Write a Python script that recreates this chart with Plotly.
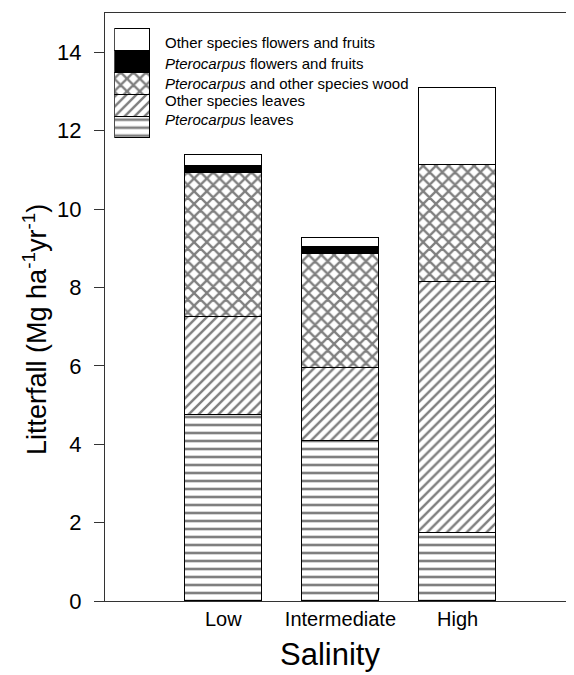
import plotly.graph_objects as go

categories = ["Low", "Intermediate", "High"]
series_names = [
    "Pterocarpus leaves",
    "Other species leaves",
    "Pterocarpus and other species wood",
    "Pterocarpus flowers and fruits",
    "Other species flowers and fruits",
]
legend_labels = [
    "<i>Pterocarpus</i> leaves",
    "Other species leaves",
    "<i>Pterocarpus</i> and other species wood",
    "<i>Pterocarpus</i> flowers and fruits",
    "Other species flowers and fruits",
]
ptero_leaves = [4.75, 4.08, 1.74]
other_leaves = [2.50, 1.86, 6.39]
wood = [3.68, 2.90, 2.99]
ptero_flowers = [0.17, 0.20, 0.0]
other_flowers = [0.28, 0.23, 1.97]
series_values = [ptero_leaves, other_leaves, wood, ptero_flowers, other_flowers]
y_ticks = [0, 2, 4, 6, 8, 10, 12, 14]

patterns = [
    dict(shape="-", size=8, solidity=0.33, fgcolor="black", bgcolor="white"),
    dict(shape="/", size=7, solidity=0.35, fgcolor="black", bgcolor="white"),
    dict(shape="x", size=9, solidity=0.45, fgcolor="black", bgcolor="white"),
    None,
    None,
]
fills = ["white", "white", "white", "black", "white"]

xpos = list(range(len(categories)))
fig = go.Figure()
for name, vals, pat, fc in zip(series_names, series_values, patterns, fills):
    marker = dict(color=fc, line=dict(color="black", width=1.2))
    if pat:
        marker["pattern"] = pat
    fig.add_trace(go.Bar(x=xpos, y=vals, name=name, width=0.66, marker=marker,
                         showlegend=False, xaxis="x", yaxis="y"))

# legend swatches as a small stacked bar in an inset axis
for name, pat, fc in zip(series_names, patterns, fills):
    marker = dict(color=fc, line=dict(color="black", width=1.2))
    if pat:
        marker["pattern"] = pat
    fig.add_trace(go.Bar(x=[0], y=[1], name=name, width=1, marker=marker,
                         showlegend=False, xaxis="x2", yaxis="y2", hoverinfo="skip",
                         cliponaxis=False))

leg_y = [0.819, 0.852, 0.8806, 0.9146, 0.9495]
for lbl, yy in zip(legend_labels, leg_y):
    fig.add_annotation(text=lbl, xref="paper", yref="paper", x=0.125, y=yy,
                       xanchor="left", yanchor="middle", showarrow=False,
                       font=dict(size=15, color="black", family="Liberation Sans"))

fig.add_annotation(text="Litterfall (Mg ha<sup>-1</sup>yr<sup>-1</sup>)",
                   xref="paper", yref="paper", x=-0.1505, y=0.461, textangle=-90,
                   xanchor="center", yanchor="middle", showarrow=False,
                   font=dict(size=27, color="black", family="Liberation Sans"))
fig.add_annotation(text="Salinity", xref="paper", yref="paper", x=0.484, y=-0.0918,
                   xanchor="center", yanchor="middle", showarrow=False,
                   font=dict(size=31, color="black", family="Liberation Sans"))

fig.update_layout(
    width=566, height=667,
    margin=dict(l=97, r=4, t=5, b=74),
    barmode="stack",
    bargap=0,
    plot_bgcolor="white", paper_bgcolor="white",
    font=dict(family="Liberation Sans", color="black"),
    xaxis=dict(
        range=[-1.01, 2.96], tickmode="array", tickvals=xpos, ticktext=categories,
        showline=True, linecolor="#333", linewidth=1, mirror=True,
        ticks="", showgrid=False, zeroline=False,
        tickfont=dict(size=20),
    ),
    yaxis=dict(
        range=[0, 15], tickmode="array", tickvals=y_ticks,
        showline=True, linecolor="#333", linewidth=1,
        ticks="outside", ticklen=10, tickcolor="#333",
        showgrid=False, zeroline=False,
        tickfont=dict(size=22), ticklabelstandoff=8,
    ),
    xaxis2=dict(domain=[0.020, 0.0995], anchor="y2", range=[-0.52, 0.52],
                visible=False, fixedrange=True),
    yaxis2=dict(domain=[0.786, 0.975], anchor="x2", range=[-0.03, 5.03],
                visible=False, fixedrange=True),
)

fig.write_html("out.html")
